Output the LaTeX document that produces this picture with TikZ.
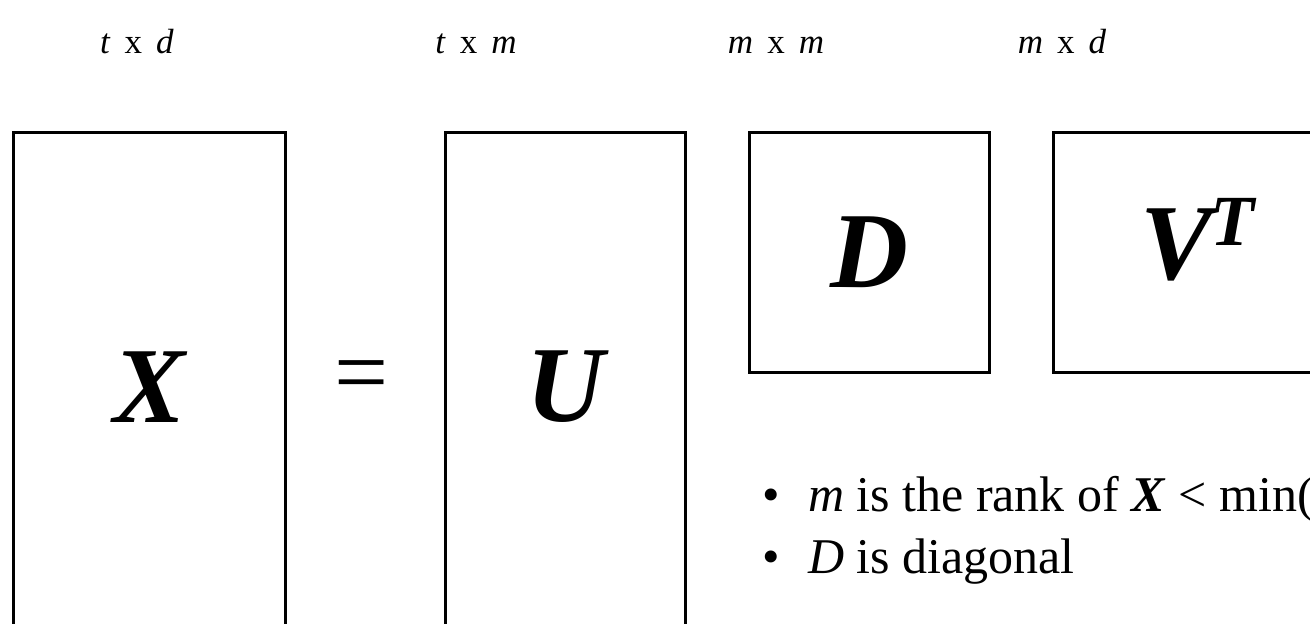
\documentclass[tikz,border=0pt]{standalone}
\usepackage{fontspec}
\setmainfont{Liberation Serif}
\usepackage{xcolor}
\usetikzlibrary{positioning}
\definecolor{ink}{HTML}{000000}

\tikzset{
  matbox/.style={draw=ink, line width=2.6pt, inner sep=0pt, anchor=north west},
  biglbl/.style={inner sep=0pt, font=\fontsize{108}{120}\selectfont\bfseries\itshape},
  dimlbl/.style={inner sep=0pt, anchor=base, font=\fontsize{35}{38}\selectfont},
  notelbl/.style={inner sep=0pt, anchor=base west, font=\fontsize{50}{56}\selectfont}
}
\newcommand{\dimgap}{\hspace{14pt}}

\begin{document}
\begin{tikzpicture}[x=1pt, y=-1pt]
 \useasboundingbox (0,0) rectangle (1310,624);
 \clip (0,0) rectangle (1310,624);
 % dimensions above the factors
 \node[dimlbl] (dimX) at (137,53) {\textit{t}\dimgap x\dimgap\textit{d}};
 \node[dimlbl] (dimU) at (476,53) {\textit{t}\dimgap x\dimgap\textit{m}};
 \node[dimlbl] (dimD) at (776,53) {\textit{m}\dimgap x\dimgap\textit{m}};
 \node[dimlbl] (dimV) at (1062,53) {\textit{m}\dimgap x\dimgap\textit{d}};
 % the four matrices
 \node[matbox, minimum width=272pt, minimum height=509pt] (Xbox) at (12,131) {};
 \node[matbox, minimum width=240pt, minimum height=509pt] (Ubox) at (444,131) {};
 \node[matbox, minimum width=240pt, minimum height=240pt] (Dbox) at (748,131) {};
 \node[matbox, minimum width=300pt, minimum height=240pt] (Vbox) at (1052,131) {};
 \node[biglbl] (Xlbl) at (Xbox.center) {X};
 \node[inner sep=0pt, font=\fontsize{96}{100}\selectfont] (eq) at (362,383) {=};
 \node[biglbl] (Ulbl) at (Ubox.center) {U};
 \node[biglbl] (Dlbl) at (Dbox.center) {D};
 \node[biglbl] (Vlbl) at (1197,240)
   {V\kern-2pt\raisebox{34pt}{\fontsize{72}{76}\selectfont T}};
 % notes
 \node[notelbl] (b1) at (762,511) {•};
 \node[notelbl, right=28pt of b1.base east, anchor=base west] (n1)
   {\textit{m} is the rank of \textbf{\textit{X}} < min(};
 \node[notelbl] (b2) at (762,573) {•};
 \node[notelbl, right=28pt of b2.base east, anchor=base west] (n2)
   {\textit{D} is diagonal};
\end{tikzpicture}
\end{document}
